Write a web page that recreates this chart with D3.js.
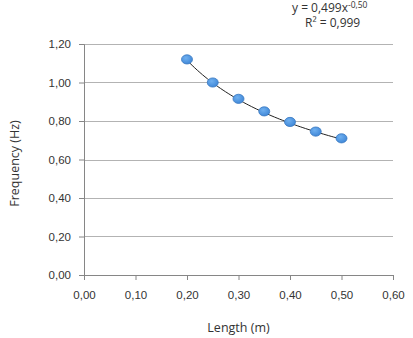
<!DOCTYPE html>
<html>
<head>
<meta charset="utf-8">
<script src="https://cdn.jsdelivr.net/npm/d3@7"></script>
<style>
  body { margin: 0; background: #fff; }
  svg { display: block; font-family: "Open Sans", "Liberation Sans", sans-serif; }
  .axis text { fill: #333; font-size: 11.5px; }
</style>
</head>
<body>
<div id="chart"></div>
<script>
// Données
const lengths = [0.20, 0.25, 0.30, 0.35, 0.40, 0.45, 0.50];
const frequencies = [1.12, 1.00, 0.915, 0.85, 0.795, 0.745, 0.71];
const xTicks = [0, 0.1, 0.2, 0.3, 0.4, 0.5, 0.6];
const yTicks = [0, 0.2, 0.4, 0.6, 0.8, 1.0, 1.2];
// Courbe de tendance (puissance) : y = a * x^b
const trendA = 0.499;
const trendB = -0.5;
const trendR2 = "0,999";

const width = 413;
const height = 338;
const margin = { top: 44, right: 20, bottom: 63, left: 84 };
const chartWidth = width - margin.left - margin.right;
const chartHeight = height - margin.top - margin.bottom;

const fmt = (v) => d3.format(".2f")(v).replace(".", ",");

const svg = d3.select("#chart")
  .append("svg")
  .attr("width", width)
  .attr("height", height);

const g = svg.append("g")
  .attr("transform", `translate(${margin.left},${margin.top})`);

const x = d3.scaleLinear().domain([0, 0.6]).range([0, chartWidth]);
const y = d3.scaleLinear().domain([0, 1.2]).range([chartHeight, 0]);

// Grille
g.append("g")
  .selectAll("line")
  .data(yTicks.filter((d) => d > 0))
  .enter()
  .append("line")
  .attr("x1", 0)
  .attr("x2", chartWidth)
  .attr("y1", (d) => Math.round(y(d)) + 0.5)
  .attr("y2", (d) => Math.round(y(d)) + 0.5)
  .attr("stroke", "#b3b3b3")
  .attr("stroke-width", 1);

// Axes
const yAxis = g.append("g")
  .attr("class", "axis")
  .call(d3.axisLeft(y).tickValues(yTicks).tickFormat(fmt).tickSize(5).tickPadding(8));

const xAxis = g.append("g")
  .attr("class", "axis")
  .attr("transform", `translate(0,${chartHeight})`)
  .call(d3.axisBottom(x).tickValues(xTicks).tickFormat(fmt).tickSize(5).tickPadding(11));

[yAxis, xAxis].forEach((a) => {
  a.select(".domain").attr("stroke", "#868686");
  a.selectAll(".tick line").attr("stroke", "#868686");
});

// Courbe de tendance
const trendPts = d3.range(0, 61).map((i) => {
  const lx = lengths[0] + (lengths[lengths.length - 1] - lengths[0]) * i / 60;
  return [lx, trendA * Math.pow(lx, trendB)];
});

g.append("path")
  .datum(trendPts)
  .attr("fill", "none")
  .attr("stroke", "#222")
  .attr("stroke-width", 1)
  .attr("d", d3.line().x((d) => x(d[0])).y((d) => y(d[1])));

// Points
const defs = svg.append("defs");
const grad = defs.append("radialGradient").attr("id", "mk").attr("cx", "40%").attr("cy", "35%").attr("r", "70%");
grad.append("stop").attr("offset", "0%").attr("stop-color", "#6fb0f0");
grad.append("stop").attr("offset", "100%").attr("stop-color", "#3d85d6");

g.selectAll(".pt")
  .data(lengths.map((l, i) => ({ l: l, f: frequencies[i] })))
  .enter()
  .append("ellipse")
  .attr("class", "pt")
  .attr("cx", (d) => x(d.l))
  .attr("cy", (d) => y(d.f))
  .attr("rx", 5.5)
  .attr("ry", 4.6)
  .attr("fill", "url(#mk)")
  .attr("stroke", "#3a78c0")
  .attr("stroke-width", 0.8);

// Titres des axes
svg.append("text")
  .attr("x", margin.left + chartWidth / 2)
  .attr("y", 332)
  .attr("text-anchor", "middle")
  .attr("fill", "#333")
  .style("font-size", "12.5px")
  .text("Length (m)");

svg.append("text")
  .attr("transform", `translate(19,${margin.top + chartHeight / 2 + 4}) rotate(-90)`)
  .attr("text-anchor", "middle")
  .attr("fill", "#333")
  .style("font-size", "12.5px")
  .text("Frequency (Hz)");

// Équation
const eq = svg.append("text")
  .attr("x", 292)
  .attr("y", 12)
  .attr("fill", "#333")
  .style("font-size", "12px");
eq.append("tspan").text("y = " + String(trendA).replace(".", ",") + "x");
eq.append("tspan")
  .attr("dy", -4)
  .style("font-size", "8.5px")
  .text(d3.format(".2f")(trendB).replace(".", ",").replace("−", "-"));

const r2 = svg.append("text")
  .attr("x", 305)
  .attr("y", 27)
  .attr("fill", "#333")
  .style("font-size", "12px");
r2.append("tspan").text("R² = " + trendR2);
</script>
</body>
</html>
